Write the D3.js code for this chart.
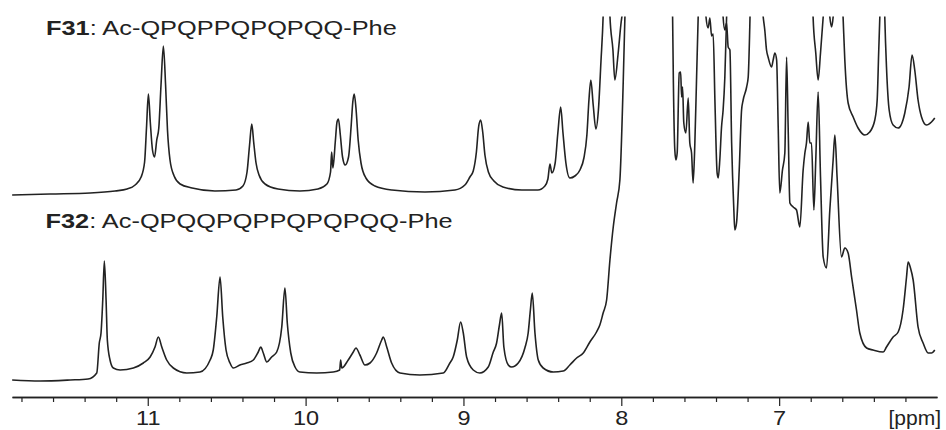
<!DOCTYPE html>
<html><head><meta charset="utf-8">
<script src="https://cdn.jsdelivr.net/npm/d3@7"></script>
<style>html,body{margin:0;padding:0;background:#fff;}svg{display:block;}</style>
</head><body><svg id="chart" width="946" height="430"></svg>
<script>
// ---- data (chemical shift in ppm, intensity in arbitrary units) ----
const f31Shift = [11.859,11.619,11.365,11.207,11.131,11.080,11.042,11.020,11.008,10.996,
10.984,10.970,10.957,10.943,10.930,10.916,10.901,10.887,10.875,10.859,
10.833,10.795,10.719,10.574,10.441,10.397,10.371,10.355,10.341,10.329,
10.314,10.295,10.257,10.175,10.036,9.922,9.865,9.842,9.835,9.827,
9.812,9.801,9.792,9.780,9.766,9.749,9.728,9.711,9.701,9.692,
9.681,9.667,9.649,9.618,9.561,9.453,9.244,9.054,8.991,8.959,
8.938,8.918,8.904,8.891,8.878,8.864,8.842,8.807,8.750,8.630,
8.528,8.484,8.465,8.452,8.440,8.419,8.402,8.384,8.370,8.351,
8.326,8.294,8.262,8.237,8.218,8.205,8.193,8.178,8.161,8.145,
8.129,8.115,8.094,8.072,8.053,8.041,8.021,8.003,7.984,7.914,
7.756,7.689,7.675,7.670,7.661,7.654,7.646,7.633,7.624,7.618,
7.612,7.604,7.591,7.576,7.566,7.555,7.545,7.534,7.523,7.513,
7.490,7.464,7.450,7.439,7.428,7.418,7.407,7.393,7.386,7.376,
7.365,7.355,7.344,7.333,7.300,6.869,6.796,6.785,6.768,6.753,
6.738,6.721,6.701,6.679,6.668,6.658,6.628,6.595,6.584,6.563,
6.531,6.500,6.457,6.426,6.394,6.379,6.369,6.362,6.346,6.331,
6.320,6.303,6.278,6.246,6.204,6.177,6.158,6.141,6.120,6.098,
6.067,6.035,6.014];
const f31Intensity = [-1,0,1,3,5,9,17,32,66,100,
72,44,37,54,66,109,148,109,64,34,
18,10,6,3,4,8,22,49,70,52,
31,19,10,5,3,5,10,22,42,26,
52,72,75,59,37,29,37,69,92,100,
86,54,31,16,8,4,2,4,9,17,
23,42,67,74,62,39,22,13,7,4,
4,8,15,30,21,31,61,87,62,31,
16,18,24,36,59,94,114,89,65,84,
132,178,330,178,144,114,139,169,194,500,
500,260,177,111,44,34,41,121,122,97,
107,71,61,96,51,41,11,51,117,177,
320,178,166,176,158,160,94,21,16,34,
67,84,117,177,400,400,260,177,141,114,
141,177,230,177,167,177,300,177,134,91,
77,66,59,62,74,94,144,178,300,178,
127,84,69,66,81,107,139,124,94,77,
69,72,76];

const f32Shift = [11.859,11.682,11.492,11.378,11.323,11.307,11.296,11.285,11.275,11.264,
11.256,11.239,11.218,11.175,11.091,11.028,10.985,10.954,10.933,10.911,
10.880,10.838,10.753,10.669,10.605,10.585,10.563,10.542,10.525,10.504,
10.479,10.458,10.416,10.373,10.331,10.300,10.284,10.268,10.246,10.215,
10.183,10.151,10.131,10.116,10.094,10.067,10.036,9.930,9.825,9.784,
9.778,9.771,9.730,9.698,9.681,9.656,9.624,9.592,9.550,9.518,
9.508,9.486,9.455,9.402,9.276,9.128,9.086,9.065,9.039,9.018,
9.001,8.980,8.938,8.896,8.843,8.811,8.790,8.772,8.758,8.744,
8.716,8.695,8.653,8.611,8.590,8.576,8.564,8.547,8.526,8.495,
8.431,8.368,8.326,8.283,8.241,8.199,8.157,8.136,8.115,8.093,
8.072,8.051,8.030,8.009,7.988,7.977,7.958,7.502,7.369,7.355,
7.344,7.333,7.323,7.312,7.301,7.287,7.281,7.270,7.253,7.238,
7.228,7.206,7.196,7.186,7.173,7.135,7.101,7.091,7.080,7.070,
7.048,7.038,7.027,7.016,7.006,6.996,6.979,6.964,6.953,6.943,
6.932,6.911,6.890,6.869,6.848,6.837,6.827,6.816,6.806,6.795,
6.780,6.768,6.753,6.738,6.721,6.700,6.679,6.658,6.647,6.633,
6.605,6.584,6.563,6.541,6.510,6.489,6.446,6.405,6.341,6.320,
6.278,6.246,6.215,6.193,6.183,6.168,6.151,6.120,6.088,6.056,
6.035,6.014];
const f32Intensity = [0,-1,0,1,7,37,47,80,119,80,
40,20,12,10,12,17,23,33,43,33,
20,12,7,8,20,30,63,103,63,30,
17,12,15,17,20,28,33,27,18,23,
28,53,92,57,27,13,8,7,8,10,
20,12,20,28,32,25,15,17,27,40,
43,33,17,7,5,7,17,23,40,58,
47,23,10,7,13,28,37,55,67,33,
15,13,17,32,47,70,87,47,20,12,
8,9,15,22,27,38,48,55,67,80,
120,153,177,200,297,364,500,800,500,363,
350,357,333,330,237,170,150,157,210,270,
280,293,303,353,450,450,363,350,330,323,
313,320,327,320,253,187,210,227,323,253,
177,173,170,153,210,227,237,258,237,237,
170,220,288,203,123,112,170,220,245,203,
123,132,127,103,70,47,32,30,28,33,
43,48,70,103,118,112,100,53,37,27,
27,30];

const majorTicks = [11, 10, 9, 8, 7];
const minorTicks = [11.8,11.6,11.4,11.2,10.8,10.6,10.4,10.2,9.8,9.6,9.4,9.2,8.8,8.6,8.4,8.2,7.8,7.6,7.4,7.2,6.8,6.6,6.4,6.2];
const axisUnit = "[ppm]";
const spectrumNames = ["F31", "F32"];
const spectrumSequences = [": Ac-QPQPPQPQPQQ-Phe", ": Ac-QPQQPQPPQPQPQQ-Phe"];

// ---- drawing ----
const svg = d3.select("#chart");
const font = "'Liberation Sans', Arial, Helvetica, sans-serif";
const ink = "#222";

const x = d3.scaleLinear().domain([11.86, 6.0]).range([12, 937]);
const y31 = d3.scaleLinear().domain([0, 100]).range([194, 94]);
const y32 = d3.scaleLinear().domain([0, 100]).range([380, 280]);

svg.append("defs").append("clipPath").attr("id", "plotClip")
  .append("rect").attr("x", x(11.86)).attr("y", 16.5)
  .attr("width", x(6.0) - x(11.86)).attr("height", 380);

const plot = svg.append("g").attr("clip-path", "url(#plotClip)");

function drawSpectrum(shifts, intens, yScale) {
  const pts = shifts.map((s, i) => [s, intens[i]]);
  const line = d3.line().x(d => x(d[0])).y(d => yScale(d[1])).curve(d3.curveMonotoneX);
  plot.append("path").datum(pts)
    .attr("d", line)
    .attr("fill", "none")
    .attr("stroke", ink)
    .attr("stroke-width", 1.6)
    .attr("stroke-linejoin", "round");
}
drawSpectrum(f31Shift, f31Intensity, y31);
drawSpectrum(f32Shift, f32Intensity, y32);

// spectrum labels
const labelPos = [[46, 34.5], [45.5, 227.5]];
spectrumNames.forEach((name, i) => {
  const t = svg.append("text")
    .attr("transform", `translate(${labelPos[i][0]},${labelPos[i][1]}) scale(1.237,1)`)
    .attr("font-family", font).attr("font-size", 20.5).attr("fill", ink);
  t.append("tspan").attr("font-weight", "bold").text(name);
  t.append("tspan").text(spectrumSequences[i]);
});

// axis
const axisY = 397;
const labelSize = 21;
const minorAxis = d3.axisBottom(x).tickValues(minorTicks).tickSize(5).tickSizeOuter(0).tickFormat("");
const majorAxis = d3.axisBottom(x).tickValues(majorTicks).tickSize(9).tickSizeOuter(0).tickPadding(4).tickFormat(d3.format("d"));

const gMinor = svg.append("g").attr("transform", `translate(0,${axisY})`).call(minorAxis);
const gMajor = svg.append("g").attr("transform", `translate(0,${axisY})`).call(majorAxis);
[gMinor, gMajor].forEach(g => {
  g.selectAll("path.domain").attr("stroke", ink).attr("stroke-width", 1.4);
  g.selectAll(".tick line").attr("stroke", ink).attr("stroke-width", 1.2);
});
gMajor.selectAll(".tick text")
  .attr("font-family", font).attr("font-size", labelSize).attr("fill", ink)
  .attr("transform", "scale(1.12,1)");

svg.append("text")
  .attr("x", 941).attr("y", axisY + 9 + 4 + 0.71 * labelSize)
  .attr("text-anchor", "end")
  .attr("font-family", font).attr("font-size", labelSize).attr("fill", ink)
  .text(axisUnit);
</script>
</body></html>
